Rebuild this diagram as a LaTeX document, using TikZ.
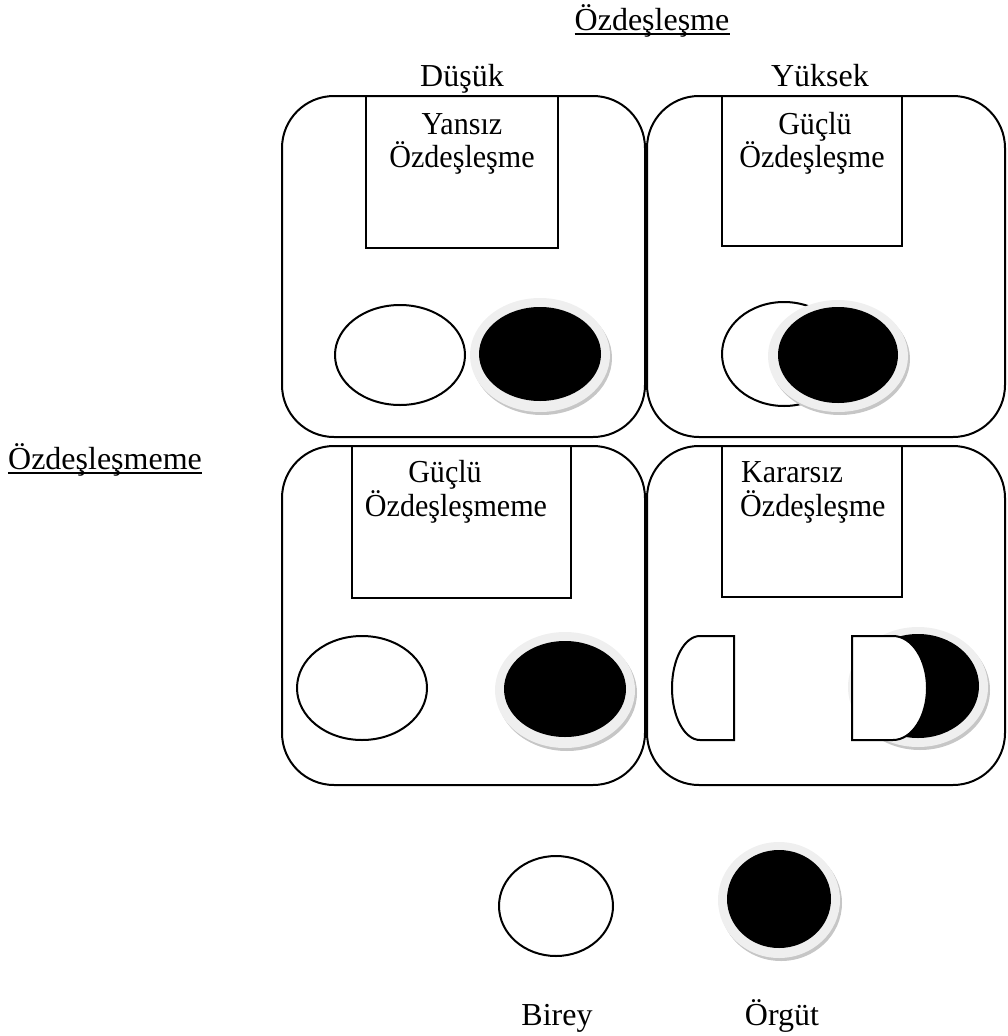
\documentclass[tikz,border=0pt]{standalone}
\usepackage{fontspec}
\setmainfont{Liberation Serif}
\newfontfamily\boxfont{Liberation Serif}[FakeStretch=0.94]
\definecolor{rimgray}{HTML}{EFEFEF}
\definecolor{shadegray}{HTML}{C6C6C6}
% organisation disk: grey rim with a soft shadow and a black core
% #1,#2 centre; #3,#4 rim radii; #5,#6 core radii
\newcommand\orgdisk[6]{%
  \fill[shadegray] (#1+2,#2-3) ellipse [x radius=#3, y radius=#4];
  \fill[rimgray] (#1,#2) ellipse [x radius=#3, y radius=#4];
  \fill[black] (#1,#2+1) ellipse [x radius=#5, y radius=#6];
}
\begin{document}
\begin{tikzpicture}[x=1pt,y=1pt,
  frame/.style={draw, line width=2pt, rounded corners=52pt},
  panel/.style={draw, line width=2pt},
  person/.style={draw, fill=white, line width=2pt},
  lbl/.style={anchor=base, inner sep=0pt, font=\fontsize{32}{38}\selectfont},
  boxlbl/.style={anchor=base, inner sep=0pt, font=\boxfont\fontsize{32}{38}\selectfont},
  uline/.style={line width=2pt}]
\useasboundingbox (0,0) rectangle (1007,-1036);

% headings
\node[lbl] (ttl) at (652,-30) {Özdeşleşme};
\draw[uline] ([yshift=-4pt]ttl.base west) -- ([yshift=-4pt]ttl.base east);
\node[lbl] (low) at (462,-86) {Düşük};
\node[lbl] (high) at (820,-86) {Yüksek};
\node[lbl] (side) at (105,-469) {Özdeşleşmeme};
\draw[uline] ([yshift=-4pt]side.base west) -- ([yshift=-4pt]side.base east);

% four quadrants
\draw[frame] (282,-96) rectangle (645,-437);
\draw[frame] (647,-96) rectangle (1005,-437);
\draw[frame] (282,-446) rectangle (645,-785);
\draw[frame] (647,-446) rectangle (1005,-785);

% label panels
\draw[panel] (366,-96) rectangle (558,-248);
\draw[panel] (722,-96) rectangle (902,-246);
\draw[panel] (352,-446) rectangle (571,-598);
\draw[panel] (722,-446) rectangle (902,-597);

\node[boxlbl] (q1a) at (462,-134) {Yansız};
\node[boxlbl] (q1b) at (462,-167) {Özdeşleşme};
\node[boxlbl] (q2a) at (815,-134) {Güçlü};
\node[boxlbl] (q2b) at (812,-167) {Özdeşleşme};
\node[boxlbl] (q3a) at (445,-482) {Güçlü};
\node[boxlbl] (q3b) at (456,-516) {Özdeşleşmeme};
\node[boxlbl, anchor=base west] (q4a) at (741,-482) {Kararsız};
\node[boxlbl, anchor=base west] (q4b) at (740,-516) {Özdeşleşme};

% low identification: separate
\draw[person] (400,-355) ellipse [x radius=65, y radius=50];
\orgdisk{540}{-355}{70}{57}{61}{47}

% high identification: overlapping
\draw[person] (784,-354) ellipse [x radius=62, y radius=52];
\orgdisk{838}{-356}{70}{56}{60}{48}

% strong disidentification: far apart
\draw[person] (362,-688) ellipse [x radius=65, y radius=52];
\orgdisk{565}{-690}{70}{58}{61}{48}

% ambivalent identification: split person
\orgdisk{918}{-687}{70}{60}{61}{52}
\draw[person] (734,-636) -- (700,-636)
  arc[start angle=90, end angle=270, x radius=28, y radius=52]
  -- (734,-740) -- cycle;
\draw[person] (852,-636) -- (893,-636)
  arc[start angle=90, end angle=-90, x radius=34, y radius=52]
  -- (852,-740) -- cycle;

% legend
\draw[person] (556,-906) ellipse [x radius=57, y radius=50];
\orgdisk{779}{-900}{61}{58}{52}{49}
\node[lbl] (ind) at (557,-1025) {Birey};
\node[lbl] (org) at (782,-1025) {Örgüt};
\end{tikzpicture}
\end{document}
